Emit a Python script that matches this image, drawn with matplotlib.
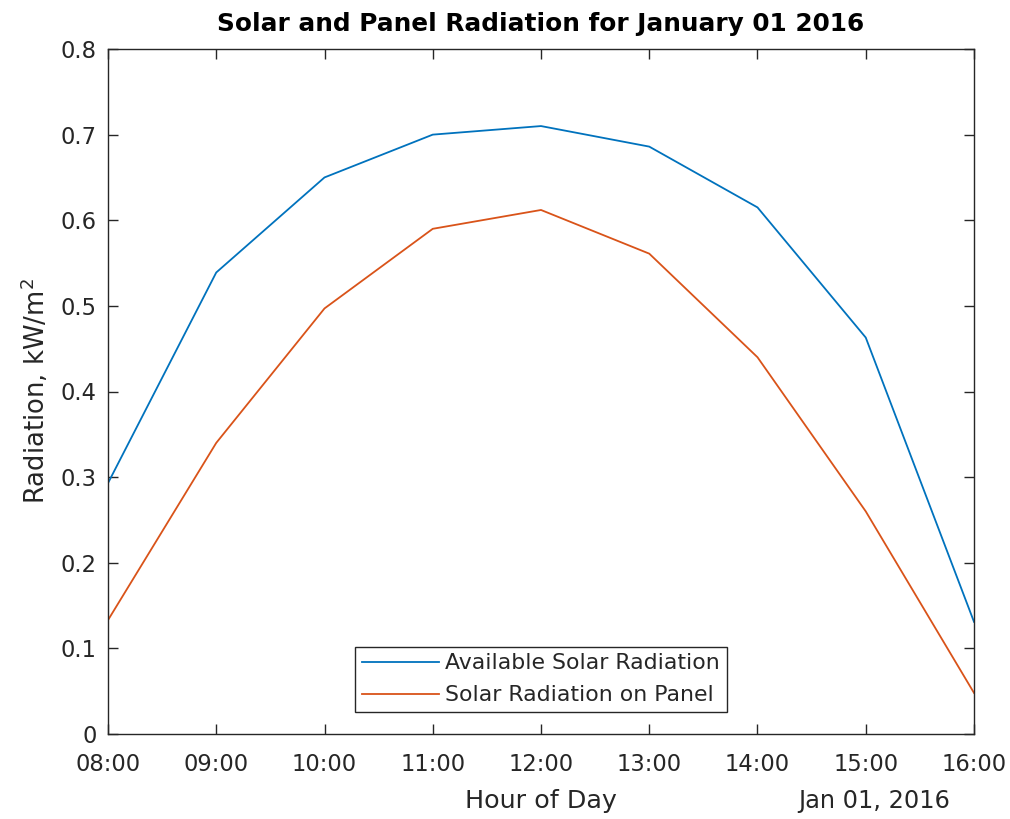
import matplotlib
matplotlib.use("Agg")
import matplotlib.pyplot as plt
import numpy as np
from datetime import datetime

plt.rcParams['font.family'] = ['DejaVu Sans']

hours = [8, 9, 10, 11, 12, 13, 14, 15, 16]
available = [0.293, 0.539, 0.650, 0.700, 0.710, 0.686, 0.615, 0.463, 0.131]
panel = [0.133, 0.340, 0.497, 0.590, 0.612, 0.561, 0.440, 0.260, 0.048]
tick_labels = ['08:00', '09:00', '10:00', '11:00', '12:00', '13:00', '14:00', '15:00', '16:00']
ytick_vals = [0, 0.1, 0.2, 0.3, 0.4, 0.5, 0.6, 0.7, 0.8]
ytick_labels = ['0', '0.1', '0.2', '0.3', '0.4', '0.5', '0.6', '0.7', '0.8']

times = [datetime(2016, 1, 1, h) for h in hours]

W, H = 1010, 819
fig = plt.figure(figsize=(W / 100, H / 100), dpi=100)
L, R, T, B = 108, 974, 49, 734
ax = fig.add_axes([L / W, 1 - B / H, (R - L) / W, (B - T) / H])

ax.plot(times, available, color='#0072BD', lw=1.3, label='Available Solar Radiation')
ax.plot(times, panel, color='#D95319', lw=1.3, label='Solar Radiation on Panel')

ax.set_xlim(times[0], times[-1])
ax.set_ylim(0, 0.8)
ax.set_xticks(times)
ax.set_xticklabels(tick_labels)
ax.set_yticks(ytick_vals)
ax.set_yticklabels(ytick_labels)

tc = '#262626'
for s in ax.spines.values():
    s.set_color(tc)
    s.set_linewidth(1.0)
ax.tick_params(direction='in', top=True, right=True, length=7, width=1.0,
               colors=tc, labelsize=16.3)
ax.tick_params(axis='x', pad=14)
ax.tick_params(axis='y', pad=8)

ax.set_title('Solar and Panel Radiation for January 01 2016', fontsize=17.8,
             fontweight='bold', color='black', pad=13)
ax.set_xlabel('Hour of Day', fontsize=18.3, color=tc)
ax.xaxis.set_label_coords(0.5, (B - 801) / (B - T))
ax.xaxis.label.set_va('center')
ax.set_ylabel('Radiation, kW/m$^2$', fontsize=18.6, color=tc)
ax.yaxis.set_label_coords((35 - L) / (R - L), 0.5)
ax.yaxis.label.set_va('center')
fig.text(950 / W, 1 - 801 / H, 'Jan 01, 2016', ha='right', va='center',
         fontsize=17.3, color=tc)

leg = ax.legend(loc='lower center', bbox_to_anchor=(0.5, 0.032), fontsize=15.8,
                fancybox=False, edgecolor=tc, framealpha=1, borderpad=0.3,
                handlelength=3.5, handletextpad=0.3, labelspacing=0.55,
                borderaxespad=0.0)
leg.get_frame().set_linewidth(1.0)
for t in leg.get_texts():
    t.set_color(tc)

fig.savefig('out.png', dpi=100, facecolor='white')
